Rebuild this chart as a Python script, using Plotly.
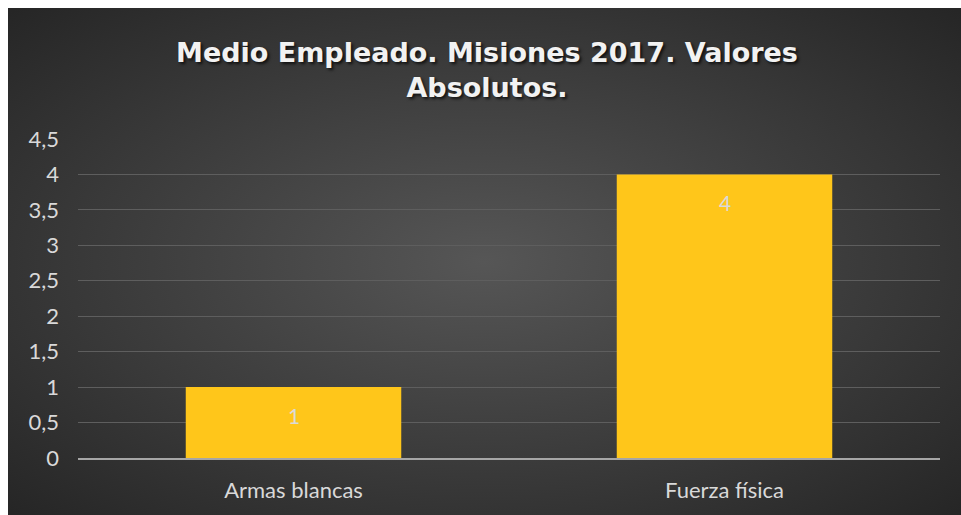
import base64
import plotly.graph_objects as go

categories = ["Armas blancas", "Fuerza física"]
values = [1, 4]
title_text = "Medio Empleado. Misiones 2017. Valores<br>Absolutos."

W, H = 961, 515
L, R, T, B = 78, 21, 139, 57
pw, ph = W - L - R, H - T - B
OX, OY = 8, 8  # white strip at left/top of the picture

svg = (
    '<svg xmlns="http://www.w3.org/2000/svg" width="953" height="507" viewBox="0 0 953 507" preserveAspectRatio="none">'
    '<defs><radialGradient id="g" cx="50%" cy="50%" r="70%">'
    '<stop offset="0%" stop-color="#565656"/>'
    '<stop offset="100%" stop-color="#262626"/>'
    '</radialGradient></defs>'
    '<rect width="953" height="507" fill="url(#g)"/></svg>'
)
src = "data:image/svg+xml;base64," + base64.b64encode(svg.encode()).decode()

fig = go.Figure()
fig.add_trace(go.Bar(
    x=categories, y=values,
    marker=dict(color="#FFC61A", line=dict(width=0)),
    hoverinfo="skip",
))

for c, v in zip(categories, values):
    fig.add_annotation(
        x=c, y=v, text=str(v), showarrow=False, yanchor="middle", yshift=-28,
        font=dict(family="Lato", size=21, color="#DADADA"),
    )

fig.update_layout(
    width=W, height=H,
    margin=dict(l=L, r=R, t=T, b=B),
    paper_bgcolor="white", plot_bgcolor="rgba(0,0,0,0)",
    separators=",.",
    bargap=0.5,
    showlegend=False,
    title=dict(
        text=title_text, x=487 / W, xanchor="center", xref="container",
        y=1 - 62 / H, yanchor="middle", yref="container",
        font=dict(family="DejaVu Sans", size=27, color="#F2F2F2", weight="bold",
                  shadow="2px 2px 3px rgba(0,0,0,0.7)"),
    ),
    images=[dict(
        source=src, xref="paper", yref="paper",
        x=(OX - L) / pw, y=(H - B - OY) / ph,
        sizex=(W - OX) / pw, sizey=(H - OY) / ph,
        xanchor="left", yanchor="top", sizing="stretch", layer="below",
    )],
    xaxis=dict(
        showgrid=False, showline=True, linecolor="#A6A6A6", linewidth=2,
        tickfont=dict(family="Lato", size=22, color="#D9D9D9"),
        ticks="", ticklabelstandoff=12,
    ),
    yaxis=dict(
        range=[0, 4.5], dtick=0.5, showgrid=True, gridcolor="#5E5E5E", gridwidth=1,
        zeroline=False, showline=False,
        tickfont=dict(family="Lato", size=22, color="#D9D9D9"),
        ticks="", ticklabelstandoff=18,
    ),
)

fig.write_html(
    "out.html",
    config={"displayModeBar": False},
    post_script="document.body.style.margin='0';document.body.style.overflow='hidden';",
)
